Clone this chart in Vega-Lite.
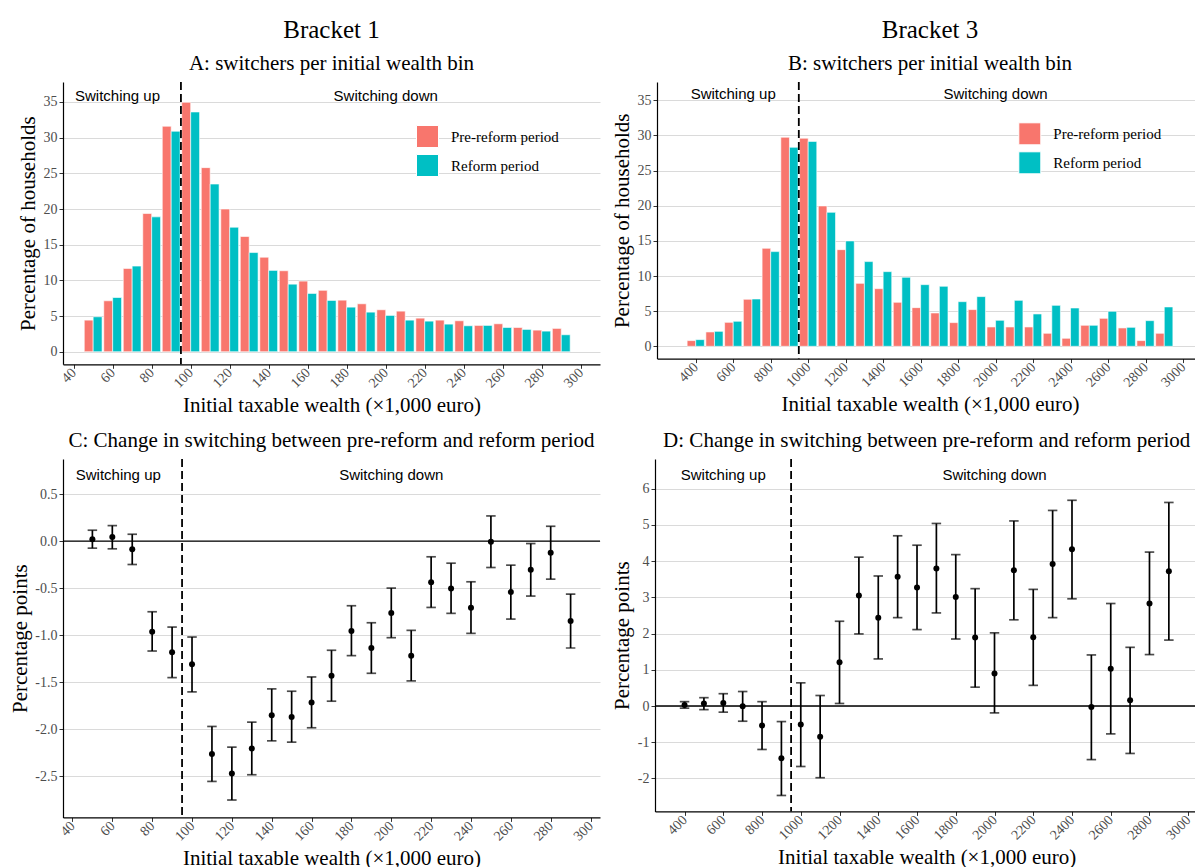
{
"$schema": "https://vega.github.io/schema/vega-lite/v6.json",
"background": "white",
"padding": {"left": 9, "top": 18, "right": 0, "bottom": 0},
"datasets": {
"barsA": [
{"bin":50,"period":"Pre-reform period","pct":4.43},{"bin":50,"period":"Reform period","pct":4.9},
{"bin":60,"period":"Pre-reform period","pct":7.14},{"bin":60,"period":"Reform period","pct":7.6},
{"bin":70,"period":"Pre-reform period","pct":11.67},{"bin":70,"period":"Reform period","pct":12.0},
{"bin":80,"period":"Pre-reform period","pct":19.37},{"bin":80,"period":"Reform period","pct":18.9},
{"bin":90,"period":"Pre-reform period","pct":31.6},{"bin":90,"period":"Reform period","pct":30.9},
{"bin":100,"period":"Pre-reform period","pct":34.95},{"bin":100,"period":"Reform period","pct":33.6},
{"bin":110,"period":"Pre-reform period","pct":25.8},{"bin":110,"period":"Reform period","pct":23.5},
{"bin":120,"period":"Pre-reform period","pct":20.0},{"bin":120,"period":"Reform period","pct":17.45},
{"bin":130,"period":"Pre-reform period","pct":16.15},{"bin":130,"period":"Reform period","pct":13.9},
{"bin":140,"period":"Pre-reform period","pct":13.25},{"bin":140,"period":"Reform period","pct":11.4},
{"bin":150,"period":"Pre-reform period","pct":11.35},{"bin":150,"period":"Reform period","pct":9.47},
{"bin":160,"period":"Pre-reform period","pct":9.9},{"bin":160,"period":"Reform period","pct":8.17},
{"bin":170,"period":"Pre-reform period","pct":8.6},{"bin":170,"period":"Reform period","pct":7.19},
{"bin":180,"period":"Pre-reform period","pct":7.23},{"bin":180,"period":"Reform period","pct":6.25},
{"bin":190,"period":"Pre-reform period","pct":6.72},{"bin":190,"period":"Reform period","pct":5.55},
{"bin":200,"period":"Pre-reform period","pct":5.88},{"bin":200,"period":"Reform period","pct":5.09},
{"bin":210,"period":"Pre-reform period","pct":5.69},{"bin":210,"period":"Reform period","pct":4.43},
{"bin":220,"period":"Pre-reform period","pct":4.71},{"bin":220,"period":"Reform period","pct":4.29},
{"bin":230,"period":"Pre-reform period","pct":4.43},{"bin":230,"period":"Reform period","pct":3.87},
{"bin":240,"period":"Pre-reform period","pct":4.34},{"bin":240,"period":"Reform period","pct":3.64},
{"bin":250,"period":"Pre-reform period","pct":3.69},{"bin":250,"period":"Reform period","pct":3.69},
{"bin":260,"period":"Pre-reform period","pct":3.92},{"bin":260,"period":"Reform period","pct":3.4},
{"bin":270,"period":"Pre-reform period","pct":3.4},{"bin":270,"period":"Reform period","pct":3.13},
{"bin":280,"period":"Pre-reform period","pct":3.03},{"bin":280,"period":"Reform period","pct":2.89},
{"bin":290,"period":"Pre-reform period","pct":3.27},{"bin":290,"period":"Reform period","pct":2.38}
],
"barsB": [
{"bin":400,"period":"Pre-reform period","pct":0.81},{"bin":400,"period":"Reform period","pct":0.95},
{"bin":500,"period":"Pre-reform period","pct":2.04},{"bin":500,"period":"Reform period","pct":2.13},
{"bin":600,"period":"Pre-reform period","pct":3.41},{"bin":600,"period":"Reform period","pct":3.56},
{"bin":700,"period":"Pre-reform period","pct":6.69},{"bin":700,"period":"Reform period","pct":6.73},
{"bin":800,"period":"Pre-reform period","pct":13.94},{"bin":800,"period":"Reform period","pct":13.47},
{"bin":900,"period":"Pre-reform period","pct":29.74},{"bin":900,"period":"Reform period","pct":28.31},
{"bin":1000,"period":"Pre-reform period","pct":29.6},{"bin":1000,"period":"Reform period","pct":29.15},
{"bin":1100,"period":"Pre-reform period","pct":19.97},{"bin":1100,"period":"Reform period","pct":19.06},
{"bin":1200,"period":"Pre-reform period","pct":13.75},{"bin":1200,"period":"Reform period","pct":14.99},
{"bin":1300,"period":"Pre-reform period","pct":8.96},{"bin":1300,"period":"Reform period","pct":12.05},
{"bin":1400,"period":"Pre-reform period","pct":8.2},{"bin":1400,"period":"Reform period","pct":10.62},
{"bin":1500,"period":"Pre-reform period","pct":6.26},{"bin":1500,"period":"Reform period","pct":9.82},
{"bin":1600,"period":"Pre-reform period","pct":5.5},{"bin":1600,"period":"Reform period","pct":8.77},
{"bin":1700,"period":"Pre-reform period","pct":4.74},{"bin":1700,"period":"Reform period","pct":8.54},
{"bin":1800,"period":"Pre-reform period","pct":3.37},{"bin":1800,"period":"Reform period","pct":6.35},
{"bin":1900,"period":"Pre-reform period","pct":5.22},{"bin":1900,"period":"Reform period","pct":7.07},
{"bin":2000,"period":"Pre-reform period","pct":2.75},{"bin":2000,"period":"Reform period","pct":3.7},
{"bin":2100,"period":"Pre-reform period","pct":2.75},{"bin":2100,"period":"Reform period","pct":6.54},
{"bin":2200,"period":"Pre-reform period","pct":2.75},{"bin":2200,"period":"Reform period","pct":4.6},
{"bin":2300,"period":"Pre-reform period","pct":1.85},{"bin":2300,"period":"Reform period","pct":5.83},
{"bin":2400,"period":"Pre-reform period","pct":1.14},{"bin":2400,"period":"Reform period","pct":5.45},
{"bin":2500,"period":"Pre-reform period","pct":2.99},{"bin":2500,"period":"Reform period","pct":2.99},
{"bin":2600,"period":"Pre-reform period","pct":3.98},{"bin":2600,"period":"Reform period","pct":4.98},
{"bin":2700,"period":"Pre-reform period","pct":2.61},{"bin":2700,"period":"Reform period","pct":2.7},
{"bin":2800,"period":"Pre-reform period","pct":0.81},{"bin":2800,"period":"Reform period","pct":3.65},
{"bin":2900,"period":"Pre-reform period","pct":1.85},{"bin":2900,"period":"Reform period","pct":5.6}
],
"ciC": [
{"w":50,"est":0.02,"lo":-0.074,"hi":0.117},
{"w":60,"est":0.046,"lo":-0.081,"hi":0.166},
{"w":70,"est":-0.085,"lo":-0.248,"hi":0.074},
{"w":80,"est":-0.963,"lo":-1.169,"hi":-0.751},
{"w":90,"est":-1.183,"lo":-1.452,"hi":-0.914},
{"w":100,"est":-1.31,"lo":-1.604,"hi":-1.02},
{"w":110,"est":-2.266,"lo":-2.557,"hi":-1.972},
{"w":120,"est":-2.472,"lo":-2.755,"hi":-2.192},
{"w":130,"est":-2.206,"lo":-2.486,"hi":-1.926},
{"w":140,"est":-1.852,"lo":-2.125,"hi":-1.572},
{"w":150,"est":-1.87,"lo":-2.139,"hi":-1.597},
{"w":160,"est":-1.717,"lo":-1.986,"hi":-1.445},
{"w":170,"est":-1.431,"lo":-1.703,"hi":-1.161},
{"w":180,"est":-0.956,"lo":-1.218,"hi":-0.687},
{"w":190,"est":-1.137,"lo":-1.406,"hi":-0.868},
{"w":200,"est":-0.765,"lo":-1.027,"hi":-0.499},
{"w":210,"est":-1.218,"lo":-1.487,"hi":-0.949},
{"w":220,"est":-0.436,"lo":-0.705,"hi":-0.166},
{"w":230,"est":-0.503,"lo":-0.768,"hi":-0.234},
{"w":240,"est":-0.708,"lo":-0.981,"hi":-0.432},
{"w":250,"est":-0.007,"lo":-0.28,"hi":0.269},
{"w":260,"est":-0.542,"lo":-0.829,"hi":-0.255},
{"w":270,"est":-0.305,"lo":-0.584,"hi":-0.025},
{"w":280,"est":-0.124,"lo":-0.404,"hi":0.159},
{"w":290,"est":-0.85,"lo":-1.137,"hi":-0.563}
],
"ciD": [
{"w":400,"est":0.03,"lo":-0.06,"hi":0.12},
{"w":500,"est":0.07,"lo":-0.1,"hi":0.23},
{"w":600,"est":0.08,"lo":-0.17,"hi":0.34},
{"w":700,"est":-0.01,"lo":-0.42,"hi":0.4},
{"w":800,"est":-0.54,"lo":-1.2,"hi":0.12},
{"w":900,"est":-1.44,"lo":-2.47,"hi":-0.43},
{"w":1000,"est":-0.51,"lo":-1.67,"hi":0.64},
{"w":1100,"est":-0.85,"lo":-1.98,"hi":0.29},
{"w":1200,"est":1.21,"lo":0.07,"hi":2.34},
{"w":1300,"est":3.05,"lo":1.99,"hi":4.11},
{"w":1400,"est":2.44,"lo":1.3,"hi":3.59},
{"w":1500,"est":3.57,"lo":2.44,"hi":4.7},
{"w":1600,"est":3.27,"lo":2.11,"hi":4.44},
{"w":1700,"est":3.8,"lo":2.57,"hi":5.04},
{"w":1800,"est":3.01,"lo":1.85,"hi":4.18},
{"w":1900,"est":1.89,"lo":0.52,"hi":3.24},
{"w":2000,"est":0.9,"lo":-0.19,"hi":2.02},
{"w":2100,"est":3.75,"lo":2.38,"hi":5.11},
{"w":2200,"est":1.9,"lo":0.57,"hi":3.22},
{"w":2300,"est":3.92,"lo":2.44,"hi":5.4},
{"w":2400,"est":4.33,"lo":2.96,"hi":5.68},
{"w":2500,"est":-0.03,"lo":-1.48,"hi":1.41},
{"w":2600,"est":1.03,"lo":-0.77,"hi":2.83},
{"w":2700,"est":0.16,"lo":-1.31,"hi":1.62},
{"w":2800,"est":2.83,"lo":1.42,"hi":4.25},
{"w":2900,"est":3.72,"lo":1.82,"hi":5.62}
]
},
"config": {
"font": "Liberation Serif",
"view": {"stroke": null},
"axis": {"domainColor": "black", "domainWidth": 1.2, "tickColor": "#333333", "tickSize": 4, "tickWidth": 1, "labelFont": "Liberation Serif", "labelFontSize": 14, "labelColor": "#4D4D4D", "labelPadding": 2, "labelOverlap": false, "titleFont": "Liberation Serif", "titleFontSize": 21, "titleFontWeight": "normal", "titleColor": "black", "gridColor": "#DADADA", "gridWidth": 1},
"axisX": {"grid": false, "labelAngle": -45, "labelAlign": "right", "labelBaseline": "middle", "titlePadding": 4},
"axisY": {"grid": true, "titlePadding": 4.5},
"title": {"font": "Liberation Serif", "fontSize": 25, "fontWeight": "normal", "color": "black", "subtitleFont": "Liberation Serif", "subtitleFontSize": 21, "subtitleColor": "black", "anchor": "middle", "frame": "group", "offset": 7, "subtitlePadding": 10},
"legend": {"title": null, "orient": "none", "symbolType": "square", "symbolSize": 484, "symbolStrokeColor": "white", "symbolStrokeWidth": 1, "labelFont": "Liberation Serif", "labelFontSize": 15, "labelColor": "black", "rowPadding": 2, "labelOffset": 12}
},
"columns": 2,
"align": "none",
"spacing": {"row": 14, "column": 10},
"resolve": {"scale": {"color": "independent"}, "legend": {"color": "independent"}},
"concat": [
{
"width": 537, "height": 282.3,
"title": {"text": "Bracket 1", "subtitle": "A: switchers per initial wealth bin"},
"layer": [
{"data": {"name": "barsA"}, "transform": [{"filter": "datum.period === 'Pre-reform period'"}],
 "mark": {"type": "bar", "width": 8.9, "xOffset": -4.45, "stroke": "white", "strokeWidth": 0.6},
 "encoding": {
  "x": {"field": "bin", "type": "quantitative", "scale": {"domain": [37.1, 307.3], "nice": false, "zero": false}, "axis": {"values": [40,60,80,100,120,140,160,180,200,220,240,260,280,300], "format": "d", "title": "Initial taxable wealth (×1,000 euro)"}},
  "y": {"field": "pct", "type": "quantitative", "scale": {"domain": [-1.76, 37.8], "nice": false, "zero": false}, "axis": {"values": [0,5,10,15,20,25,30,35], "format": "d", "title": "Percentage of households"}},
  "color": {"field": "period", "type": "nominal", "scale": {"domain": ["Pre-reform period", "Reform period"], "range": ["#F8766D", "#00BFC4"]}, "legend": {"legendX": 353, "legendY": 43}}
 }},
{"data": {"name": "barsA"}, "transform": [{"filter": "datum.period === 'Reform period'"}],
 "mark": {"type": "bar", "width": 8.9, "xOffset": 4.45, "stroke": "white", "strokeWidth": 0.6},
 "encoding": {
  "x": {"field": "bin", "type": "quantitative", "scale": {"domain": [37.1, 307.3], "nice": false, "zero": false}, "axis": {"values": [40,60,80,100,120,140,160,180,200,220,240,260,280,300], "format": "d", "title": "Initial taxable wealth (×1,000 euro)"}},
  "y": {"field": "pct", "type": "quantitative", "scale": {"domain": [-1.76, 37.8], "nice": false, "zero": false}, "axis": {"values": [0,5,10,15,20,25,30,35], "format": "d", "title": "Percentage of households"}},
  "color": {"field": "period", "type": "nominal", "scale": {"domain": ["Pre-reform period", "Reform period"], "range": ["#F8766D", "#00BFC4"]}, "legend": {"legendX": 353, "legendY": 43}}
 }},
{"data": {"values": [{}]}, "mark": {"type": "rule", "strokeDash": [8, 4], "strokeWidth": 1.8, "color": "black"},
 "encoding": {"x": {"datum": 95, "type": "quantitative", "scale": {"domain": [37.1, 307.3], "nice": false, "zero": false}, "axis": {"values": [40,60,80,100,120,140,160,180,200,220,240,260,280,300], "format": "d", "title": "Initial taxable wealth (×1,000 euro)"}}}},
{"data": {"values": [{}]}, "mark": {"type": "text", "font": "Liberation Sans", "fontSize": 15, "color": "black", "align": "center", "baseline": "middle"},
 "encoding": {"x": {"datum": 62.5, "type": "quantitative", "scale": {"domain": [37.1, 307.3], "nice": false, "zero": false}, "axis": {"values": [40,60,80,100,120,140,160,180,200,220,240,260,280,300], "format": "d", "title": "Initial taxable wealth (×1,000 euro)"}}, "y": {"datum": 35.9, "type": "quantitative", "scale": {"domain": [-1.76, 37.8], "nice": false, "zero": false}, "axis": {"values": [0,5,10,15,20,25,30,35], "format": "d", "title": "Percentage of households"}}, "text": {"value": "Switching up"}}},
{"data": {"values": [{}]}, "mark": {"type": "text", "font": "Liberation Sans", "fontSize": 15, "color": "black", "align": "center", "baseline": "middle"},
 "encoding": {"x": {"datum": 200, "type": "quantitative", "scale": {"domain": [37.1, 307.3], "nice": false, "zero": false}, "axis": {"values": [40,60,80,100,120,140,160,180,200,220,240,260,280,300], "format": "d", "title": "Initial taxable wealth (×1,000 euro)"}}, "y": {"datum": 35.9, "type": "quantitative", "scale": {"domain": [-1.76, 37.8], "nice": false, "zero": false}, "axis": {"values": [0,5,10,15,20,25,30,35], "format": "d", "title": "Percentage of households"}}, "text": {"value": "Switching down"}}}
]
},
{
"width": 546, "height": 276.6,
"title": {"text": "Bracket 3", "subtitle": "B: switchers per initial wealth bin"},
"layer": [
{"data": {"name": "barsB"}, "transform": [{"filter": "datum.period === 'Pre-reform period'"}],
 "mark": {"type": "bar", "width": 8.6, "xOffset": -4.3, "stroke": "white", "strokeWidth": 0.6},
 "encoding": {
  "x": {"field": "bin", "type": "quantitative", "scale": {"domain": [220, 3080], "nice": false, "zero": false}, "axis": {"values": [400,600,800,1000,1200,1400,1600,1800,2000,2200,2400,2600,2800,3000], "format": "d", "title": "Initial taxable wealth (×1,000 euro)"}},
  "y": {"field": "pct", "type": "quantitative", "scale": {"domain": [-1.75, 37.6], "nice": false, "zero": false}, "axis": {"values": [0,5,10,15,20,25,30,35], "format": "d", "title": "Percentage of households"}},
  "color": {"field": "period", "type": "nominal", "scale": {"domain": ["Pre-reform period", "Reform period"], "range": ["#F8766D", "#00BFC4"]}, "legend": {"legendX": 361.3, "legendY": 40.3}}
 }},
{"data": {"name": "barsB"}, "transform": [{"filter": "datum.period === 'Reform period'"}],
 "mark": {"type": "bar", "width": 8.6, "xOffset": 4.3, "stroke": "white", "strokeWidth": 0.6},
 "encoding": {
  "x": {"field": "bin", "type": "quantitative", "scale": {"domain": [220, 3080], "nice": false, "zero": false}, "axis": {"values": [400,600,800,1000,1200,1400,1600,1800,2000,2200,2400,2600,2800,3000], "format": "d", "title": "Initial taxable wealth (×1,000 euro)"}},
  "y": {"field": "pct", "type": "quantitative", "scale": {"domain": [-1.75, 37.6], "nice": false, "zero": false}, "axis": {"values": [0,5,10,15,20,25,30,35], "format": "d", "title": "Percentage of households"}},
  "color": {"field": "period", "type": "nominal", "scale": {"domain": ["Pre-reform period", "Reform period"], "range": ["#F8766D", "#00BFC4"]}, "legend": {"legendX": 361.3, "legendY": 40.3}}
 }},
{"data": {"values": [{}]}, "mark": {"type": "rule", "strokeDash": [8, 4], "strokeWidth": 1.8, "color": "black"},
 "encoding": {"x": {"datum": 950, "type": "quantitative", "scale": {"domain": [220, 3080], "nice": false, "zero": false}, "axis": {"values": [400,600,800,1000,1200,1400,1600,1800,2000,2200,2400,2600,2800,3000], "format": "d", "title": "Initial taxable wealth (×1,000 euro)"}}}},
{"data": {"values": [{}]}, "mark": {"type": "text", "font": "Liberation Sans", "fontSize": 15, "color": "black", "align": "center", "baseline": "middle"},
 "encoding": {"x": {"datum": 600, "type": "quantitative", "scale": {"domain": [220, 3080], "nice": false, "zero": false}, "axis": {"values": [400,600,800,1000,1200,1400,1600,1800,2000,2200,2400,2600,2800,3000], "format": "d", "title": "Initial taxable wealth (×1,000 euro)"}}, "y": {"datum": 35.85, "type": "quantitative", "scale": {"domain": [-1.75, 37.6], "nice": false, "zero": false}, "axis": {"values": [0,5,10,15,20,25,30,35], "format": "d", "title": "Percentage of households"}}, "text": {"value": "Switching up"}}},
{"data": {"values": [{}]}, "mark": {"type": "text", "font": "Liberation Sans", "fontSize": 15, "color": "black", "align": "center", "baseline": "middle"},
 "encoding": {"x": {"datum": 2000, "type": "quantitative", "scale": {"domain": [220, 3080], "nice": false, "zero": false}, "axis": {"values": [400,600,800,1000,1200,1400,1600,1800,2000,2200,2400,2600,2800,3000], "format": "d", "title": "Initial taxable wealth (×1,000 euro)"}}, "y": {"datum": 35.85, "type": "quantitative", "scale": {"domain": [-1.75, 37.6], "nice": false, "zero": false}, "axis": {"values": [0,5,10,15,20,25,30,35], "format": "d", "title": "Percentage of households"}}, "text": {"value": "Switching down"}}}
]
},
{
"width": 537, "height": 358.4,
"title": {"text": "C: Change in switching between pre-reform and reform period", "fontSize": 21},
"layer": [
{"data": {"values": [{}]}, "mark": {"type": "rule", "strokeWidth": 1.3, "color": "black"},
 "encoding": {"y": {"datum": 0, "type": "quantitative", "scale": {"domain": [-2.94, 0.875], "nice": false, "zero": false}, "axis": {"values": [-2.5,-2,-1.5,-1,-0.5,0,0.5], "format": ".1f", "labelExpr": "replace(datum.label, '\u2212', '-')", "title": "Percentage points"}}}},
{"data": {"values": [{}]}, "mark": {"type": "rule", "strokeDash": [8, 4], "strokeWidth": 1.8, "color": "black"},
 "encoding": {"x": {"datum": 95, "type": "quantitative", "scale": {"domain": [35.25, 304.75], "nice": false, "zero": false}, "axis": {"values": [40,60,80,100,120,140,160,180,200,220,240,260,280,300], "format": "d", "title": "Initial taxable wealth (×1,000 euro)"}}}},
{"data": {"name": "ciC"}, "mark": {"type": "rule", "strokeWidth": 1.7, "color": "black"},
 "encoding": {
  "x": {"field": "w", "type": "quantitative", "scale": {"domain": [35.25, 304.75], "nice": false, "zero": false}, "axis": {"values": [40,60,80,100,120,140,160,180,200,220,240,260,280,300], "format": "d", "title": "Initial taxable wealth (×1,000 euro)"}},
  "y": {"field": "lo", "type": "quantitative", "scale": {"domain": [-2.94, 0.875], "nice": false, "zero": false}, "axis": {"values": [-2.5,-2,-1.5,-1,-0.5,0,0.5], "format": ".1f", "labelExpr": "replace(datum.label, '\u2212', '-')", "title": "Percentage points"}},
  "y2": {"field": "hi"}
 }},
{"data": {"name": "ciC"}, "mark": {"type": "tick", "orient": "horizontal", "size": 9.5, "thickness": 1.7, "color": "black"},
 "encoding": {
  "x": {"field": "w", "type": "quantitative", "scale": {"domain": [35.25, 304.75], "nice": false, "zero": false}, "axis": {"values": [40,60,80,100,120,140,160,180,200,220,240,260,280,300], "format": "d", "title": "Initial taxable wealth (×1,000 euro)"}},
  "y": {"field": "lo", "type": "quantitative", "scale": {"domain": [-2.94, 0.875], "nice": false, "zero": false}, "axis": {"values": [-2.5,-2,-1.5,-1,-0.5,0,0.5], "format": ".1f", "labelExpr": "replace(datum.label, '\u2212', '-')", "title": "Percentage points"}}
 }},
{"data": {"name": "ciC"}, "mark": {"type": "tick", "orient": "horizontal", "size": 9.5, "thickness": 1.7, "color": "black"},
 "encoding": {
  "x": {"field": "w", "type": "quantitative", "scale": {"domain": [35.25, 304.75], "nice": false, "zero": false}, "axis": {"values": [40,60,80,100,120,140,160,180,200,220,240,260,280,300], "format": "d", "title": "Initial taxable wealth (×1,000 euro)"}},
  "y": {"field": "hi", "type": "quantitative", "scale": {"domain": [-2.94, 0.875], "nice": false, "zero": false}, "axis": {"values": [-2.5,-2,-1.5,-1,-0.5,0,0.5], "format": ".1f", "labelExpr": "replace(datum.label, '\u2212', '-')", "title": "Percentage points"}}
 }},
{"data": {"name": "ciC"}, "mark": {"type": "circle", "size": 36, "color": "black", "opacity": 1},
 "encoding": {
  "x": {"field": "w", "type": "quantitative", "scale": {"domain": [35.25, 304.75], "nice": false, "zero": false}, "axis": {"values": [40,60,80,100,120,140,160,180,200,220,240,260,280,300], "format": "d", "title": "Initial taxable wealth (×1,000 euro)"}},
  "y": {"field": "est", "type": "quantitative", "scale": {"domain": [-2.94, 0.875], "nice": false, "zero": false}, "axis": {"values": [-2.5,-2,-1.5,-1,-0.5,0,0.5], "format": ".1f", "labelExpr": "replace(datum.label, '\u2212', '-')", "title": "Percentage points"}}
 }},
{"data": {"values": [{}]}, "mark": {"type": "text", "font": "Liberation Sans", "fontSize": 15, "color": "black", "align": "center", "baseline": "middle"},
 "encoding": {"x": {"datum": 63, "type": "quantitative", "scale": {"domain": [35.25, 304.75], "nice": false, "zero": false}, "axis": {"values": [40,60,80,100,120,140,160,180,200,220,240,260,280,300], "format": "d", "title": "Initial taxable wealth (×1,000 euro)"}}, "y": {"datum": 0.7, "type": "quantitative", "scale": {"domain": [-2.94, 0.875], "nice": false, "zero": false}, "axis": {"values": [-2.5,-2,-1.5,-1,-0.5,0,0.5], "format": ".1f", "labelExpr": "replace(datum.label, '\u2212', '-')", "title": "Percentage points"}}, "text": {"value": "Switching up"}}},
{"data": {"values": [{}]}, "mark": {"type": "text", "font": "Liberation Sans", "fontSize": 15, "color": "black", "align": "center", "baseline": "middle"},
 "encoding": {"x": {"datum": 200, "type": "quantitative", "scale": {"domain": [35.25, 304.75], "nice": false, "zero": false}, "axis": {"values": [40,60,80,100,120,140,160,180,200,220,240,260,280,300], "format": "d", "title": "Initial taxable wealth (×1,000 euro)"}}, "y": {"datum": 0.7, "type": "quantitative", "scale": {"domain": [-2.94, 0.875], "nice": false, "zero": false}, "axis": {"values": [-2.5,-2,-1.5,-1,-0.5,0,0.5], "format": ".1f", "labelExpr": "replace(datum.label, '\u2212', '-')", "title": "Percentage points"}}, "text": {"value": "Switching down"}}}
]
},
{
"width": 543.4, "height": 352.4,
"title": {"text": "D: Change in switching between pre-reform and reform period", "fontSize": 21},
"layer": [
{"data": {"values": [{}]}, "mark": {"type": "rule", "strokeWidth": 1.3, "color": "black"},
 "encoding": {"y": {"datum": 0, "type": "quantitative", "scale": {"domain": [-2.91, 6.82], "nice": false, "zero": false}, "axis": {"values": [-2,-1,0,1,2,3,4,5,6], "format": "d", "labelExpr": "replace(datum.label, '\u2212', '-')", "title": "Percentage points"}}}},
{"data": {"values": [{}]}, "mark": {"type": "rule", "strokeDash": [8, 4], "strokeWidth": 1.8, "color": "black"},
 "encoding": {"x": {"datum": 950, "type": "quantitative", "scale": {"domain": [247.5, 3052.5], "nice": false, "zero": false}, "axis": {"values": [400,600,800,1000,1200,1400,1600,1800,2000,2200,2400,2600,2800,3000], "format": "d", "title": "Initial taxable wealth (×1,000 euro)"}}}},
{"data": {"name": "ciD"}, "mark": {"type": "rule", "strokeWidth": 1.7, "color": "black"},
 "encoding": {
  "x": {"field": "w", "type": "quantitative", "scale": {"domain": [247.5, 3052.5], "nice": false, "zero": false}, "axis": {"values": [400,600,800,1000,1200,1400,1600,1800,2000,2200,2400,2600,2800,3000], "format": "d", "title": "Initial taxable wealth (×1,000 euro)"}},
  "y": {"field": "lo", "type": "quantitative", "scale": {"domain": [-2.91, 6.82], "nice": false, "zero": false}, "axis": {"values": [-2,-1,0,1,2,3,4,5,6], "format": "d", "labelExpr": "replace(datum.label, '\u2212', '-')", "title": "Percentage points"}},
  "y2": {"field": "hi"}
 }},
{"data": {"name": "ciD"}, "mark": {"type": "tick", "orient": "horizontal", "size": 9.5, "thickness": 1.7, "color": "black"},
 "encoding": {
  "x": {"field": "w", "type": "quantitative", "scale": {"domain": [247.5, 3052.5], "nice": false, "zero": false}, "axis": {"values": [400,600,800,1000,1200,1400,1600,1800,2000,2200,2400,2600,2800,3000], "format": "d", "title": "Initial taxable wealth (×1,000 euro)"}},
  "y": {"field": "lo", "type": "quantitative", "scale": {"domain": [-2.91, 6.82], "nice": false, "zero": false}, "axis": {"values": [-2,-1,0,1,2,3,4,5,6], "format": "d", "labelExpr": "replace(datum.label, '\u2212', '-')", "title": "Percentage points"}}
 }},
{"data": {"name": "ciD"}, "mark": {"type": "tick", "orient": "horizontal", "size": 9.5, "thickness": 1.7, "color": "black"},
 "encoding": {
  "x": {"field": "w", "type": "quantitative", "scale": {"domain": [247.5, 3052.5], "nice": false, "zero": false}, "axis": {"values": [400,600,800,1000,1200,1400,1600,1800,2000,2200,2400,2600,2800,3000], "format": "d", "title": "Initial taxable wealth (×1,000 euro)"}},
  "y": {"field": "hi", "type": "quantitative", "scale": {"domain": [-2.91, 6.82], "nice": false, "zero": false}, "axis": {"values": [-2,-1,0,1,2,3,4,5,6], "format": "d", "labelExpr": "replace(datum.label, '\u2212', '-')", "title": "Percentage points"}}
 }},
{"data": {"name": "ciD"}, "mark": {"type": "circle", "size": 36, "color": "black", "opacity": 1},
 "encoding": {
  "x": {"field": "w", "type": "quantitative", "scale": {"domain": [247.5, 3052.5], "nice": false, "zero": false}, "axis": {"values": [400,600,800,1000,1200,1400,1600,1800,2000,2200,2400,2600,2800,3000], "format": "d", "title": "Initial taxable wealth (×1,000 euro)"}},
  "y": {"field": "est", "type": "quantitative", "scale": {"domain": [-2.91, 6.82], "nice": false, "zero": false}, "axis": {"values": [-2,-1,0,1,2,3,4,5,6], "format": "d", "labelExpr": "replace(datum.label, '\u2212', '-')", "title": "Percentage points"}}
 }},
{"data": {"values": [{}]}, "mark": {"type": "text", "font": "Liberation Sans", "fontSize": 15, "color": "black", "align": "center", "baseline": "middle"},
 "encoding": {"x": {"datum": 600, "type": "quantitative", "scale": {"domain": [247.5, 3052.5], "nice": false, "zero": false}, "axis": {"values": [400,600,800,1000,1200,1400,1600,1800,2000,2200,2400,2600,2800,3000], "format": "d", "title": "Initial taxable wealth (×1,000 euro)"}}, "y": {"datum": 6.39, "type": "quantitative", "scale": {"domain": [-2.91, 6.82], "nice": false, "zero": false}, "axis": {"values": [-2,-1,0,1,2,3,4,5,6], "format": "d", "labelExpr": "replace(datum.label, '\u2212', '-')", "title": "Percentage points"}}, "text": {"value": "Switching up"}}},
{"data": {"values": [{}]}, "mark": {"type": "text", "font": "Liberation Sans", "fontSize": 15, "color": "black", "align": "center", "baseline": "middle"},
 "encoding": {"x": {"datum": 2000, "type": "quantitative", "scale": {"domain": [247.5, 3052.5], "nice": false, "zero": false}, "axis": {"values": [400,600,800,1000,1200,1400,1600,1800,2000,2200,2400,2600,2800,3000], "format": "d", "title": "Initial taxable wealth (×1,000 euro)"}}, "y": {"datum": 6.39, "type": "quantitative", "scale": {"domain": [-2.91, 6.82], "nice": false, "zero": false}, "axis": {"values": [-2,-1,0,1,2,3,4,5,6], "format": "d", "labelExpr": "replace(datum.label, '\u2212', '-')", "title": "Percentage points"}}, "text": {"value": "Switching down"}}}
]
}
]
}
